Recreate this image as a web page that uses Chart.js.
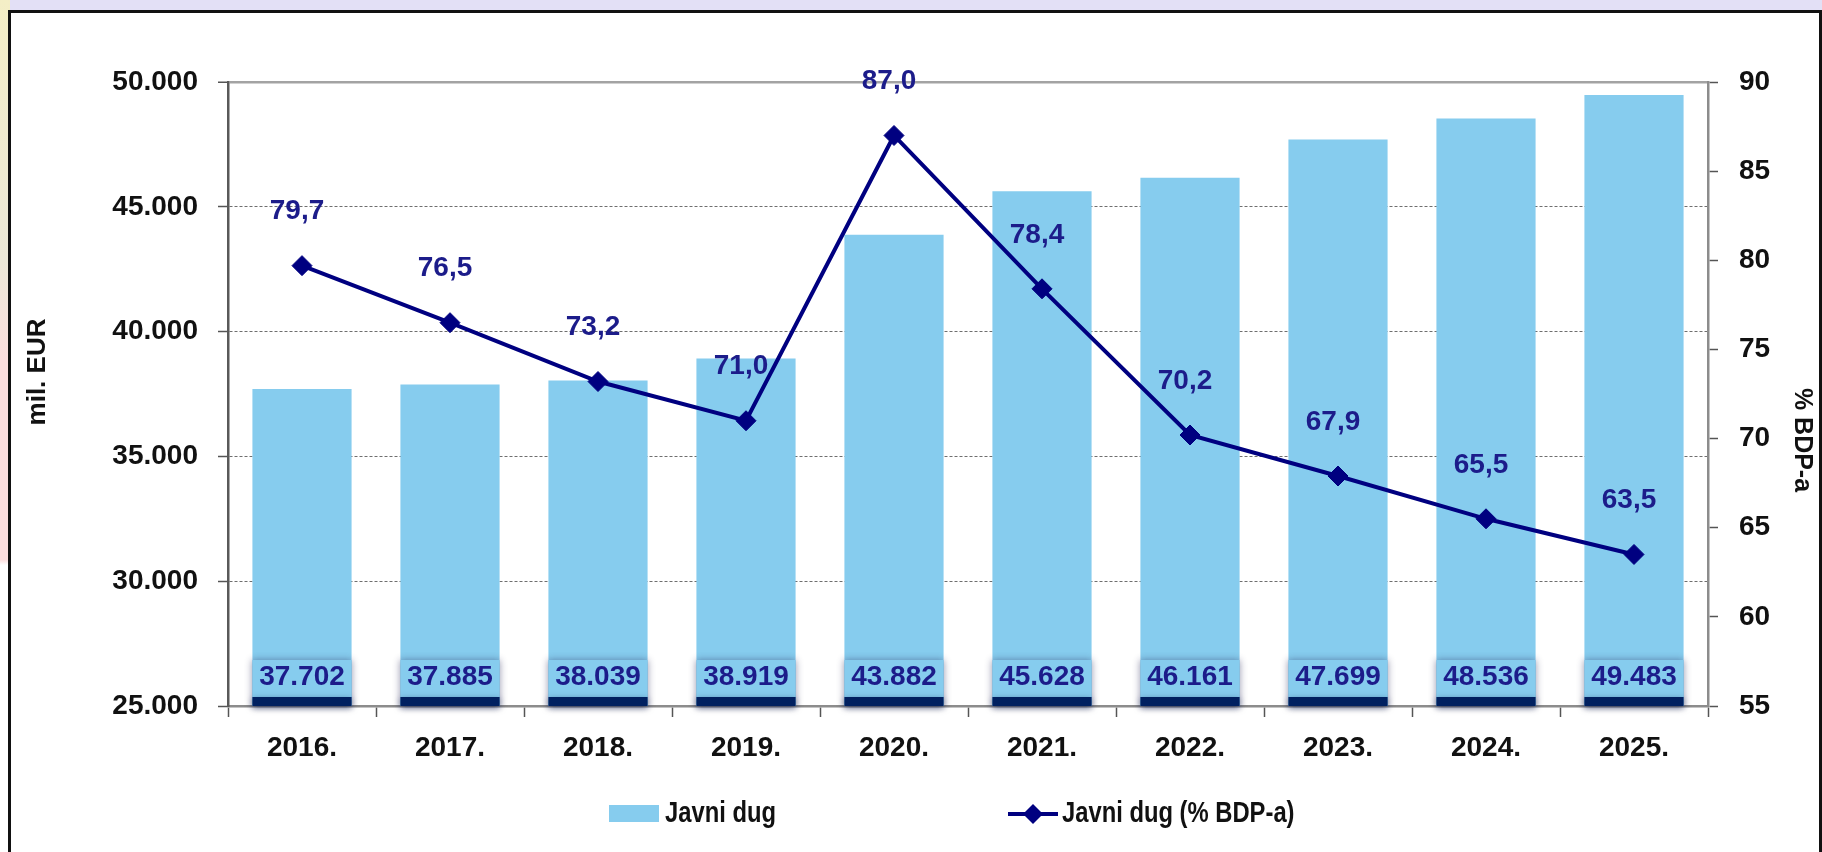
<!DOCTYPE html>
<html>
<head>
<meta charset="utf-8">
<script src="https://cdn.jsdelivr.net/npm/chart.js@4.4.1/dist/chart.umd.min.js"></script>
<style>
  html, body { margin: 0; padding: 0; overflow: hidden; }
  body { width: 1822px; height: 852px; background: #e3e0f6; position: relative; }
  #traka { position: absolute; left: 0; top: 0; width: 10px; height: 852px;
    background: linear-gradient(to bottom, #f4eec6 0px, #ece8d8 260px, #fbdede 360px, #fcdede 560px, #ffffff 565px); }
  #okvir { position: absolute; left: 8px; top: 10px; width: 1808px; height: 900px;
    border: 3px solid #111; background: #fff; }
  #graf { position: absolute; left: 0; top: 0; }
</style>
</head>
<body>
<div id="traka"></div>
<div id="okvir"></div>
<canvas id="graf" width="1822" height="852"></canvas>
<script>
// Podaci: javni dug (mil. EUR) i udio u BDP-u (%)
const godine = ['2016.', '2017.', '2018.', '2019.', '2020.', '2021.', '2022.', '2023.', '2024.', '2025.'];
const javniDug = [37702, 37885, 38039, 38919, 43882, 45628, 46161, 47699, 48536, 49483];
const javniDugBdp = [79.7, 76.5, 73.2, 71.0, 87.0, 78.4, 70.2, 67.9, 65.5, 63.5];
const nazivi = ['Javni dug', 'Javni dug (% BDP-a)'];
const naslovLijevo = 'mil. EUR';
const naslovDesno = '% BDP-a';

const bojaStupca = '#86ccee';
const bojaLinije = '#000080';
const bojaOznaka = '#1c1c8a';
const font = '"Liberation Sans", Arial, sans-serif';

function tisuce(n) {
    return String(n).replace(/\B(?=(\d{3})+(?!\d))/g, '.');
}
function decimalno(v) {
    return v.toFixed(1).replace('.', ',');
}

// uski tekst za legendu (nema Calibri, pa stisnemo Liberation Sans)
function uskiTekst(ctx, tekst, x, y) {
    ctx.save();
    ctx.translate(x, y);
    ctx.scale(0.82, 1);
    ctx.fillText(tekst, 0, 0);
    ctx.restore();
}

// Oznake vrijednosti, naslovi osi i legenda
const dodaci = {
    id: 'dodaci',
    afterDatasetsDraw(chart) {
        const ctx = chart.ctx;
        const area = chart.chartArea;
        const stupci = chart.getDatasetMeta(0).data;
        const tocke = chart.getDatasetMeta(1).data;

        stupci.forEach((bar, i) => {
            const w = bar.width;
            const x = bar.x - w / 2;
            ctx.save();
            ctx.shadowColor = 'rgba(30,30,80,0.45)';
            ctx.shadowBlur = 7;
            ctx.fillStyle = bojaStupca;
            ctx.fillRect(x, area.bottom - 46, w, 46);
            ctx.restore();
            ctx.save();
            ctx.shadowColor = 'rgba(0,20,70,0.5)';
            ctx.shadowBlur = 6;
            ctx.shadowOffsetY = 2;
            ctx.fillStyle = '#002060';
            ctx.fillRect(x, area.bottom - 9, w, 9);
            ctx.restore();
            ctx.fillStyle = bojaOznaka;
            ctx.font = 'bold 28px ' + font;
            ctx.textAlign = 'center';
            ctx.textBaseline = 'middle';
            ctx.fillText(tisuce(javniDug[i]), bar.x, area.bottom - 29);
        });

        tocke.forEach((p, i) => {
            ctx.fillStyle = bojaOznaka;
            ctx.font = 'bold 28px ' + font;
            ctx.textAlign = 'center';
            ctx.textBaseline = 'middle';
            ctx.fillText(decimalno(javniDugBdp[i]), p.x - 5, p.y - 54);
        });
    },
    afterDraw(chart) {
        const ctx = chart.ctx;
        const area = chart.chartArea;
        const sredina = (area.top + area.bottom) / 2;

        ctx.save();
        ctx.fillStyle = '#111';
        ctx.font = 'bold 26px ' + font;
        ctx.textAlign = 'center';
        ctx.textBaseline = 'middle';
        ctx.translate(38, sredina - 22);
        ctx.rotate(-Math.PI / 2);
        ctx.fillText(naslovLijevo, 0, 0);
        ctx.restore();

        ctx.save();
        ctx.fillStyle = '#111';
        ctx.font = 'bold 25px ' + font;
        ctx.textAlign = 'center';
        ctx.textBaseline = 'middle';
        ctx.translate(1802, sredina + 46);
        ctx.rotate(Math.PI / 2);
        ctx.fillText(naslovDesno, 0, 0);
        ctx.restore();

        // legenda
        const ly = 814;
        ctx.save();
        ctx.fillStyle = bojaStupca;
        ctx.fillRect(609, ly - 9, 50, 17);
        ctx.fillStyle = '#111';
        ctx.font = 'bold 29px ' + font;
        ctx.textAlign = 'left';
        ctx.textBaseline = 'middle';
        uskiTekst(ctx, nazivi[0], 665, ly);

        ctx.strokeStyle = bojaLinije;
        ctx.lineWidth = 4;
        ctx.beginPath();
        ctx.moveTo(1008, ly);
        ctx.lineTo(1058, ly);
        ctx.stroke();
        ctx.fillStyle = bojaLinije;
        ctx.beginPath();
        ctx.moveTo(1033, ly - 10);
        ctx.lineTo(1043, ly);
        ctx.lineTo(1033, ly + 10);
        ctx.lineTo(1023, ly);
        ctx.closePath();
        ctx.fill();
        ctx.fillStyle = '#111';
        uskiTekst(ctx, nazivi[1], 1062, ly);
        ctx.restore();
    }
};

const ctx = document.getElementById('graf').getContext('2d');
const chart = new Chart(ctx, {
    type: 'bar',
    data: {
        labels: godine,
        datasets: [{
            label: nazivi[0],
            data: javniDug,
            backgroundColor: bojaStupca,
            borderWidth: 0,
            barPercentage: 0.67,
            categoryPercentage: 1.0,
            yAxisID: 'y',
            order: 1
        }, {
            type: 'line',
            label: nazivi[1],
            data: javniDugBdp,
            borderColor: bojaLinije,
            backgroundColor: bojaLinije,
            borderWidth: 4,
            pointStyle: 'rectRot',
            pointRadius: 10,
            pointBorderWidth: 1,
            tension: 0,
            fill: false,
            yAxisID: 'y2',
            order: 0
        }]
    },
    options: {
        responsive: false,
        animation: false,
        devicePixelRatio: 1,
        layout: { padding: { left: 0, right: 0, top: 82, bottom: 0 } },
        plugins: {
            legend: { display: false },
            tooltip: { enabled: false }
        },
        scales: {
            x: {
                afterFit: s => { s.height = 146; },
                grid: {
                    offset: true,
                    drawOnChartArea: false,
                    tickLength: 11,
                    tickColor: '#555',
                    tickWidth: 1.5
                },
                border: { color: '#8c8c8c', width: 2.5 },
                ticks: {
                    padding: 14,
                    color: '#111',
                    font: { family: font, size: 28, weight: 'bold' }
                }
            },
            y: {
                position: 'left',
                min: 25000,
                max: 50000,
                afterFit: s => { s.width = 228; },
                grid: {
                    color: c => c.tick && c.tick.value === 50000 ? '#a3a3a3' : (c.tick && c.tick.value === 25000 ? 'rgba(0,0,0,0)' : '#6e6e6e'),
                    lineWidth: c => c.tick && c.tick.value === 50000 ? 2.5 : 1,
                    tickLength: 10,
                    tickColor: '#555',
                    tickWidth: 1.5
                },
                border: {
                    color: '#595959',
                    width: 2.5,
                    dash: c => c.tick && c.tick.value === 50000 ? [] : [3, 2]
                },
                ticks: {
                    stepSize: 5000,
                    padding: 20,
                    color: '#111',
                    font: { family: font, size: 28, weight: 'bold' },
                    callback: v => tisuce(v)
                }
            },
            y2: {
                position: 'right',
                min: 55,
                max: 90,
                afterFit: s => { s.width = 114; },
                grid: {
                    drawOnChartArea: false,
                    tickLength: 10,
                    tickColor: '#555',
                    tickWidth: 1.5
                },
                border: { color: '#8c8c8c', width: 2.5 },
                ticks: {
                    stepSize: 5,
                    padding: 21,
                    color: '#111',
                    font: { family: font, size: 28, weight: 'bold' }
                }
            }
        }
    },
    plugins: [dodaci]
});
</script>
</body>
</html>
